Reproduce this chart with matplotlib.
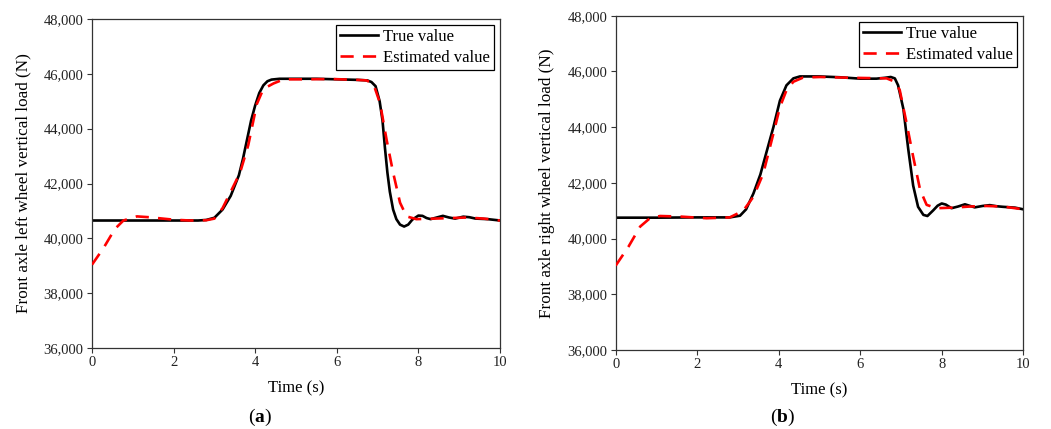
import matplotlib
matplotlib.use("Agg")
import matplotlib.pyplot as plt
from matplotlib.ticker import FuncFormatter, MultipleLocator

plt.rcParams['font.family'] = ['Liberation Serif', 'DejaVu Serif']
plt.rcParams['mathtext.fontset'] = 'custom'
plt.rcParams['mathtext.rm'] = 'Liberation Serif'
plt.rcParams['mathtext.bf'] = 'Liberation Serif:bold'

# ---- data: panel (a) front axle left wheel ----
t_true_a = [0, 1, 2, 2.6, 2.8, 3.0, 3.2, 3.4, 3.6, 3.7, 3.8, 3.9, 4.0, 4.1, 4.2, 4.3, 4.4, 4.6,
            5.0, 5.5, 6.0, 6.5, 6.75, 6.85, 6.95, 7.05, 7.12, 7.18, 7.24, 7.3, 7.38, 7.46, 7.55,
            7.65, 7.75, 7.85, 8.0, 8.1, 8.2, 8.3, 8.45, 8.6, 8.75, 8.9, 9.1, 9.25, 9.4, 9.7, 10]
v_true_a = [40650, 40650, 40650, 40650, 40670, 40750, 41050, 41550, 42300, 42900, 43600, 44300,
            44850, 45300, 45580, 45730, 45790, 45820, 45820, 45820, 45800, 45780, 45760, 45700,
            45550, 45000, 44300, 43300, 42400, 41700, 41050, 40700, 40500, 40430, 40500, 40680,
            40830, 40820, 40740, 40700, 40760, 40820, 40760, 40720, 40790, 40770, 40720, 40700, 40650]
t_est_a = [0, 0.28, 0.56, 0.77, 1.1, 1.4, 2.0, 2.4, 2.8, 3.0, 3.2, 3.4, 3.63, 3.83, 4.04, 4.2,
           4.45, 4.7, 5.1, 5.9, 6.5, 6.73, 6.9, 7.06, 7.22, 7.38, 7.55, 7.71, 7.95, 8.4, 9.2, 9.6, 10]
v_est_a = [39040, 39640, 40340, 40650, 40800, 40770, 40680, 40650, 40660, 40720, 41100, 41700,
           42400, 43400, 44900, 45450, 45650, 45800, 45800, 45810, 45780, 45760, 45620, 44930,
           43600, 42400, 41300, 40800, 40700, 40720, 40760, 40720, 40650]

# ---- data: panel (b) front axle right wheel ----
t_true_b = [0, 1, 2, 2.8, 3.05, 3.2, 3.38, 3.55, 3.7, 3.87, 4.03, 4.19, 4.36, 4.52, 5.0, 5.5,
            6.0, 6.4, 6.6, 6.75, 6.85, 6.93, 7.06, 7.18, 7.3, 7.42, 7.55, 7.65, 7.79, 7.9, 8.0,
            8.1, 8.24, 8.4, 8.57, 8.7, 8.81, 9.0, 9.18, 9.35, 9.5, 9.8, 10]
v_true_b = [40750, 40750, 40760, 40760, 40820, 41050, 41620, 42300, 43100, 44000, 44950, 45500,
            45750, 45820, 45820, 45790, 45740, 45740, 45770, 45800, 45750, 45500, 44650, 43200,
            41900, 41140, 40850, 40810, 41010, 41180, 41260, 41220, 41090, 41150, 41230, 41170,
            41120, 41170, 41200, 41160, 41140, 41110, 41050]
t_est_b = [0, 0.31, 0.6, 0.84, 1.09, 1.58, 2.23, 2.8, 3.13, 3.38, 3.62, 3.87, 4.03, 4.19, 4.36,
           4.6, 5.01, 5.83, 6.65, 6.85, 6.97, 7.14, 7.3, 7.47, 7.63, 7.87, 8.28, 8.69, 9.1, 9.5, 10]
v_est_b = [39030, 39700, 40430, 40730, 40810, 40790, 40730, 40760, 41000, 41500, 42330, 43770,
           44720, 45320, 45630, 45780, 45800, 45770, 45750, 45630, 45330, 44130, 42940, 41750,
           41210, 41090, 41110, 41150, 41170, 41150, 41050]

ylabels = ["Front axle left wheel vertical load (N)", "Front axle right wheel vertical load (N)"]
panel_tags = [r"($\mathbf{a}$)", r"($\mathbf{b}$)"]
legend_labels = ["True value", "Estimated value"]

W, H = 1051, 429
fig = plt.figure(figsize=(W / 100, H / 100), dpi=100)

rects = [
    (92 / W, (H - 348) / H, 408 / W, 329 / H),
    (615.7 / W, (H - 350) / H, 407.5 / W, 334.3 / H),
]
series = [(t_true_a, v_true_a, t_est_a, v_est_a), (t_true_b, v_true_b, t_est_b, v_est_b)]
tag_x = [260 / W, 783 / W]

for i, rect in enumerate(rects):
    ax = fig.add_axes(rect)
    tt, vt, te, ve = series[i]
    ax.plot(tt, vt, color='black', lw=1.9, label=legend_labels[0], zorder=2)
    ax.plot(te, ve, color='#ff0000', lw=1.9, dashes=(5, 3.5), label=legend_labels[1], zorder=3)
    ax.set_xlim(0, 10)
    ax.set_ylim(36000, 48000)
    ax.xaxis.set_major_locator(MultipleLocator(2))
    ax.yaxis.set_major_locator(MultipleLocator(2000))
    ax.yaxis.set_major_formatter(FuncFormatter(lambda v, p: f"{int(v):,}"))
    ax.tick_params(direction='out', length=3.5, width=0.8, labelsize=10.5, pad=2.5,
                   top=False, right=False, colors='#333333', labelcolor='#222222')
    for s in ax.spines.values():
        s.set_linewidth(0.9)
        s.set_color('#333333')
    ax.set_xlabel("Time (s)", fontsize=12, labelpad=8)
    ax.set_ylabel(ylabels[i], fontsize=12.3, labelpad=9)
    leg = ax.legend(loc='upper right', fontsize=12, frameon=True, fancybox=False,
                    edgecolor='black', framealpha=1, handlelength=2.3, handletextpad=0.3,
                    borderpad=0.25, labelspacing=0.3, borderaxespad=0.35)
    leg.get_frame().set_linewidth(0.9)
    fig.text(tag_x[i], (H - 417) / H, panel_tags[i], fontsize=14, ha='center', va='center')

fig.savefig("out.png", dpi=100)
